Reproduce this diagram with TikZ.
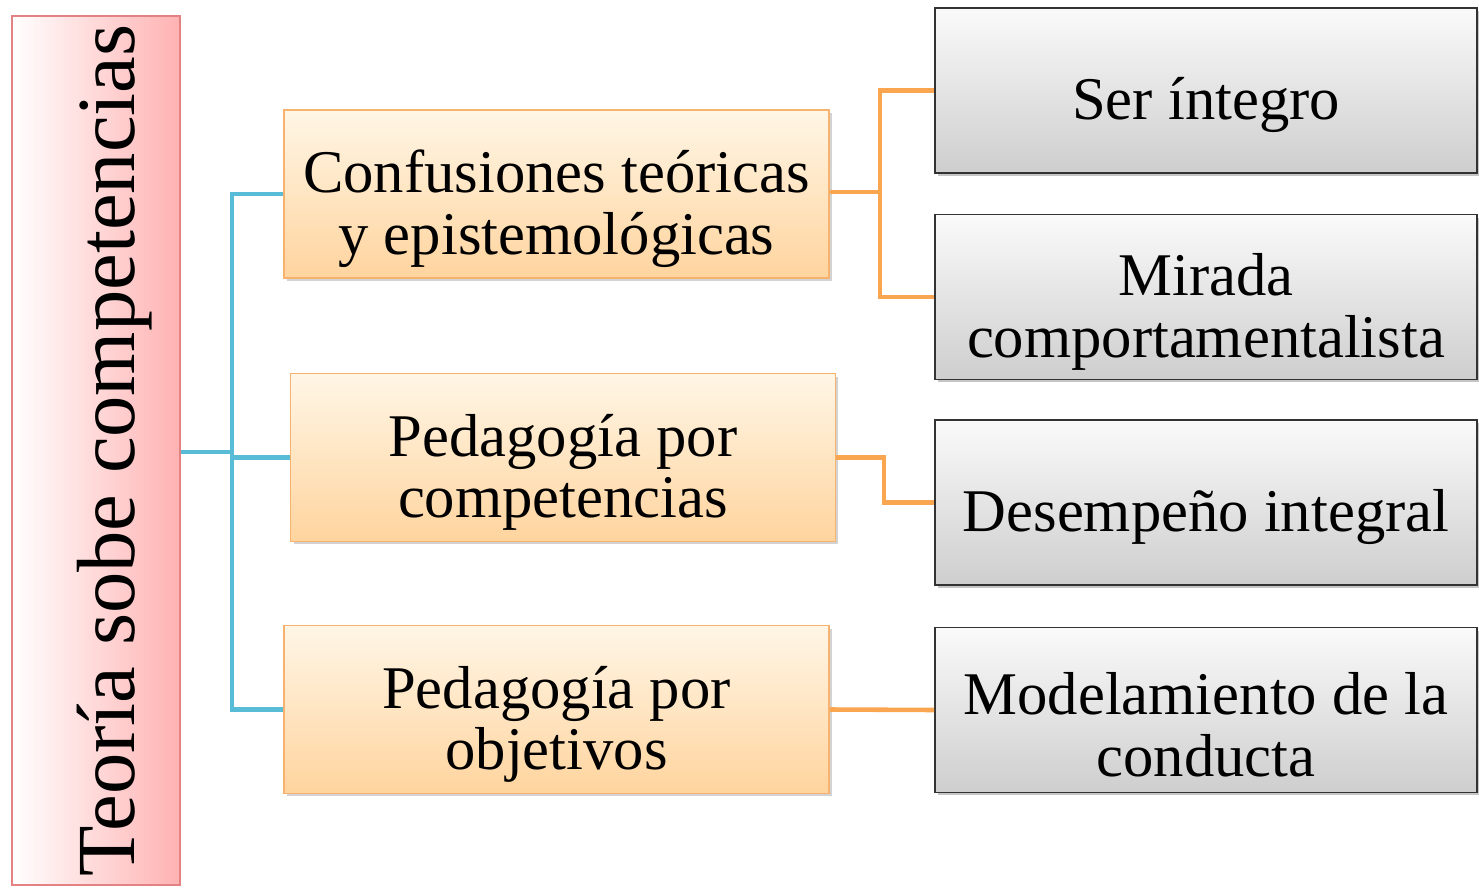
\documentclass[tikz,border=0pt]{standalone}
\usepackage{fontspec}
\setmainfont{Liberation Serif}
\usetikzlibrary{shadows}

\definecolor{rootpink}{RGB}{255,178,178}
\definecolor{rootline}{RGB}{226,130,130}
\definecolor{orangetop}{RGB}{255,246,230}
\definecolor{orangebot}{RGB}{255,212,158}
\definecolor{orangeline}{RGB}{246,178,110}
\definecolor{orangelink}{RGB}{250,165,80}
\definecolor{bluelink}{RGB}{88,188,214}
\definecolor{graytop}{RGB}{250,250,250}
\definecolor{graybot}{RGB}{206,206,206}

\newcommand{\toppad}{\rule{0pt}{41pt}}

\tikzset{
  rootbox/.style={draw=rootline, line width=1.2pt, rotate=90, left color=white, right color=rootpink,
    minimum width=17.38cm, minimum height=3.36cm, inner sep=0pt, font=\fontsize{47}{50}\selectfont},
  topicbox/.style={draw=orangeline, line width=1pt, top color=orangetop, bottom color=orangebot,
    drop shadow={opacity=0.35, shadow xshift=0.06cm, shadow yshift=-0.06cm},
    minimum width=10.9cm, minimum height=3.36cm, align=center, inner sep=0pt,
    font=\fontsize{34.5}{35}\selectfont},
  leafbox/.style={draw=black!80, line width=1pt, top color=graytop, bottom color=graybot,
    drop shadow={opacity=0.45, shadow xshift=0.06cm, shadow yshift=-0.06cm},
    minimum width=10.84cm, minimum height=3.3cm, align=center, inner sep=0pt,
    font=\fontsize{34.5}{35}\selectfont},
  bluewire/.style={draw=bluelink, line width=2.6pt},
  orangewire/.style={draw=orangelink, line width=2.6pt}
}

\begin{document}
\begin{tikzpicture}[x=0.02cm, y=-0.02cm]
  \useasboundingbox (0,0) rectangle (1479,888);

  % root
  \node[rootbox] (root) at (96,450.5) {\rule{0pt}{54pt}Teoría sobe competencias};

  % middle level
  \node[topicbox] (conf) at (556.5,194) {\toppad Confusiones teóricas\\y epistemológicas};
  \node[topicbox] (pcomp) at (563,457.5) {\toppad Pedagogía por\\competencias};
  \node[topicbox] (pobj) at (556.5,709.5) {\toppad Pedagogía por\\objetivos};

  % right level
  \node[leafbox] (ser) at (1206,90.5) {\toppad Ser íntegro};
  \node[leafbox] (mirada) at (1206,297) {\toppad Mirada\\comportamentalista};
  \node[leafbox] (desem) at (1206,502.5) {\toppad Desempeño integral};
  \node[leafbox] (model) at (1206,710) {\toppad Modelamiento de la\\conducta};

  % blue links
  \coordinate (bus) at (232,452);
  \draw[bluewire] (root.south |- bus) -- (bus);
  \draw[bluewire] (conf.west) -| (bus) |- (pobj.west);
  \draw[bluewire] (bus |- pcomp.west) -- (pcomp.west);

  % orange links
  \coordinate (fork) at (880,192);
  \draw[orangewire] (conf.east |- fork) -- (fork);
  \draw[orangewire] (ser.west) -| (fork) |- (mirada.west);
  \draw[orangewire] (pcomp.east) -| (884,480) |- (desem.west);
  \draw[orangewire] (pobj.east) -- (model.west);
\end{tikzpicture}
\end{document}
